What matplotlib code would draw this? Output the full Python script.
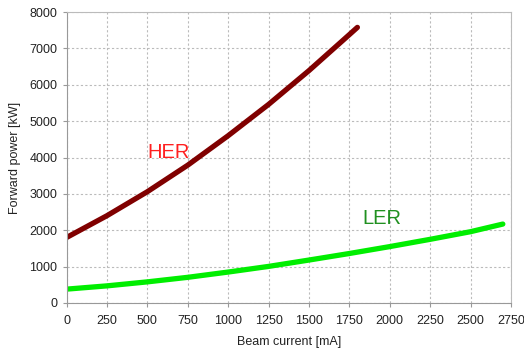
import matplotlib.pyplot as plt
import numpy as np

plt.rcParams['font.family'] = ['Liberation Sans', 'DejaVu Sans']

# beam current [mA] and forward power [kW]
her_current = [0, 250, 500, 750, 1000, 1250, 1500, 1750, 1800]
her_power = [1800, 2400, 3060, 3790, 4600, 5460, 6390, 7380, 7580]
ler_current = [0, 250, 500, 750, 1000, 1250, 1500, 1750, 2000, 2250, 2500, 2700]
ler_power = [380, 470, 580, 705, 850, 1005, 1180, 1360, 1550, 1750, 1960, 2170]

fig = plt.figure(figsize=(5.24, 3.56), dpi=100)
ax = fig.add_axes([0.127, 0.149, 0.848, 0.817])

ax.plot(her_current, her_power, color='#800000', lw=3.8, solid_capstyle='round')
ax.plot(ler_current, ler_power, color='#00ee00', lw=3.8, solid_capstyle='round')

ax.text(630, 4130, 'HER', color='#ff2020', fontsize=14.5, ha='center', va='center')
ax.text(1950, 2330, 'LER', color='#209020', fontsize=14.5, ha='center', va='center')

ax.set_xlim(0, 2750)
ax.set_ylim(0, 8000)
ax.set_xticks(np.arange(0, 2751, 250))
ax.set_yticks(np.arange(0, 8001, 1000))
ax.grid(True, color='#bbbbbb', linestyle=(0, (2, 2)), linewidth=0.8)
ax.set_axisbelow(True)

for s in ax.spines.values():
    s.set_color('#999999')
ax.spines['top'].set_color('#bbbbbb')
ax.spines['right'].set_color('#bbbbbb')
ax.tick_params(colors='#222222', labelsize=9, length=3, color='#999999')
ax.tick_params(axis='x', pad=6)

ax.set_xlabel('Beam current [mA]', fontsize=9, color='#222222', labelpad=6)
ax.set_ylabel('Forward power [kW]', fontsize=9, color='#222222', labelpad=6)

fig.savefig('out.png', dpi=100)
